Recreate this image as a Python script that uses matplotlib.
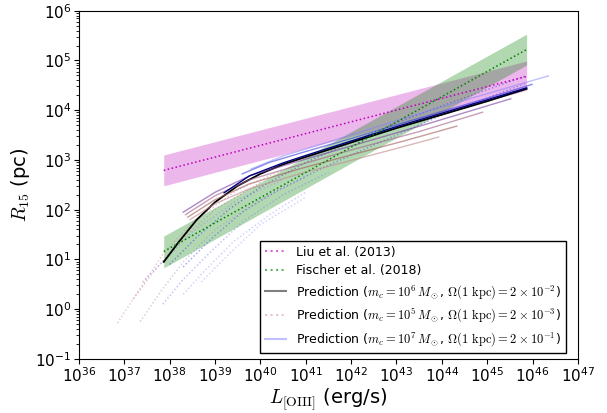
import numpy as np
import matplotlib
matplotlib.use("Agg")
import matplotlib.pyplot as plt

plt.rcParams['mathtext.fontset'] = 'cm'

# Observed relations (log10 L_[OIII], log10 R15), straight lines in log-log
obs_logL = [37.87, 45.87]
liu_mid = [2.79, 4.68]
liu_hi = [3.10, 4.99]
liu_lo = [2.48, 4.40]
fis_mid = [1.16, 5.22]
fis_hi = [1.47, 5.53]
fis_lo = [0.83, 4.91]

# Fiducial prediction (black)
pred_logL = [37.87, 38.2, 38.6, 39.0, 39.5, 40.0, 40.5, 41.0, 42.0, 43.0, 44.0, 45.0, 45.87]
pred_logR = [0.95, 1.35, 1.80, 2.15, 2.48, 2.72, 2.91, 3.06, 3.35, 3.64, 3.91, 4.18, 4.43]

# Solid prediction family (brown -> blue)
solid_logL = [
    [38.45, 39.0, 39.76, 40.86, 42.0, 43.0, 43.93],
    [38.4, 39.0, 39.76, 40.86, 42.0, 43.2, 44.33],
    [38.35, 39.0, 39.76, 40.86, 42.0, 43.5, 44.90],
    [38.3, 39.0, 39.76, 40.86, 42.0, 43.7, 45.52],
    [39.2, 39.76, 40.5, 41.0, 42.0, 43.0, 44.0, 45.0, 45.87],
    [39.6, 40.2, 41.0, 42.0, 43.5, 45.0, 45.99],
    [39.8, 40.5, 41.5, 43.0, 44.5, 46.35],
]
solid_logR = [
    [1.80, 2.12, 2.42, 2.72, 2.99, 3.23, 3.46],
    [1.85, 2.20, 2.52, 2.82, 3.10, 3.39, 3.68],
    [1.90, 2.28, 2.60, 2.90, 3.20, 3.57, 3.96],
    [1.95, 2.35, 2.68, 2.98, 3.28, 3.73, 4.23],
    [2.34, 2.68, 2.94, 3.09, 3.38, 3.67, 3.94, 4.21, 4.45],
    [2.72, 2.95, 3.17, 3.43, 3.84, 4.24, 4.52],
    [2.82, 3.08, 3.36, 3.79, 4.20, 4.69],
]
solid_colors = ['#c08a8a', '#a05a5a', '#a0608a', '#7a3aa0', '#000080', '#3a3ae0', '#8080ff']
solid_alpha = [0.6, 0.6, 0.6, 0.6, 1.0, 0.6, 0.5]

# Dotted prediction family (pink -> blue), faint
dot_logL = [
    [36.85, 37.3, 37.85, 38.5, 39.5, 40.5],
    [37.2, 37.6, 38.2, 39.0, 40.0],
    [37.35, 37.8, 38.3, 39.0, 40.0, 41.0],
    [37.4, 37.9, 38.5, 39.5, 40.5],
    [37.85, 38.3, 38.9, 39.6, 40.5, 41.5],
    [38.3, 38.8, 39.4, 40.2, 41.0],
    [38.7, 39.3, 40.0, 41.0],
    [38.0, 38.6, 39.3, 40.0, 41.0, 42.0, 43.0, 44.5, 45.85],
    [38.3, 38.9, 39.6, 40.4, 41.4, 42.5, 44.0, 45.85],
]
dot_logR = [
    [-0.28, 0.35, 1.10, 1.75, 2.40, 2.80],
    [0.20, 0.70, 1.35, 2.00, 2.55],
    [-0.25, 0.35, 0.95, 1.60, 2.20, 2.65],
    [0.55, 1.00, 1.55, 2.20, 2.60],
    [0.10, 0.60, 1.15, 1.75, 2.30, 2.75],
    [0.30, 0.80, 1.35, 1.90, 2.35],
    [0.55, 1.10, 1.70, 2.25],
    [0.90, 1.45, 2.00, 2.45, 2.95, 3.35, 3.75, 4.25, 4.69],
    [0.85, 1.40, 1.95, 2.40, 2.85, 3.30, 3.90, 4.54],
]
dot_colors = ['#d08a9a', '#c080a0', '#b08ab8', '#9a8ae0', '#7a7af0', '#9a9aff', '#a0a0ff',
              '#4a4ae0', '#5a5af0']
dot_alpha = [0.5, 0.5, 0.5, 0.5, 0.5, 0.5, 0.5, 0.6, 0.6]

L = 10 ** np.array(obs_logL)

fig, ax = plt.subplots(figsize=(6.07, 4.13), dpi=100)
fig.subplots_adjust(left=0.130, right=0.952, top=0.974, bottom=0.131)

# bands
ax.fill_between(L, 10 ** np.array(liu_lo), 10 ** np.array(liu_hi), color='orchid', alpha=0.5, lw=0)
ax.fill_between(L, 10 ** np.array(fis_lo), 10 ** np.array(fis_hi), color='g', alpha=0.3, lw=0)

# prediction families
for xs, ys, c, a in zip(dot_logL, dot_logR, dot_colors, dot_alpha):
    ax.plot(10 ** np.array(xs), 10 ** np.array(ys), ':', color=c, alpha=a, lw=1)
ax.plot(10 ** np.array(pred_logL), 10 ** np.array(pred_logR), '-', color='k', lw=1.3)
for xs, ys, c, a in zip(solid_logL, solid_logR, solid_colors, solid_alpha):
    ax.plot(10 ** np.array(xs), 10 ** np.array(ys), '-', color=c, alpha=a, lw=1)

# observed relations
ax.plot(L, 10 ** np.array(liu_mid), ':', color='m', lw=1.1)
ax.plot(L, 10 ** np.array(fis_mid), ':', color='g', lw=1.1)

# legend proxies
h1, = ax.plot([], [], ':', color='m', alpha=0.6, label='Liu et al. (2013)')
h2, = ax.plot([], [], ':', color='g', alpha=0.6, label='Fischer et al. (2018)')
h3, = ax.plot([], [], '-', color='k', alpha=0.5, lw=1.5,
              label=r'Prediction ($m_c=10^6\,M_\odot$, $\Omega(1\ \mathrm{kpc})=2\times10^{-2}$)')
h4, = ax.plot([], [], ':', color='#d08a9a', alpha=0.5,
              label=r'Prediction ($m_c=10^5\,M_\odot$, $\Omega(1\ \mathrm{kpc})=2\times10^{-3}$)')
h5, = ax.plot([], [], '-', color='#8080ff', alpha=0.5,
              label=r'Prediction ($m_c=10^7\,M_\odot$, $\Omega(1\ \mathrm{kpc})=2\times10^{-1}$)')

ax.set_xscale('log')
ax.set_yscale('log')
ax.set_xlim(1e36, 1e47)
ax.set_ylim(1e-1, 1e6)
ax.set_xticks([10.0 ** k for k in range(36, 48)])
ax.tick_params(labelsize=11, pad=2)
ax.set_xlabel(r'$L_{\rm [OIII]}$ (erg/s)', fontsize=14, labelpad=1)
ax.set_ylabel(r'$R_{15}$ (pc)', fontsize=14, labelpad=2)

leg = ax.legend(handles=[h1, h2, h3, h4, h5], loc='lower right', bbox_to_anchor=(0.976, 0.016),
                borderaxespad=0, fontsize=9, fancybox=False, framealpha=1, handlelength=1.7,
                labelspacing=0.45)
leg.get_frame().set_edgecolor('k')

fig.savefig('out.png', dpi=100)
